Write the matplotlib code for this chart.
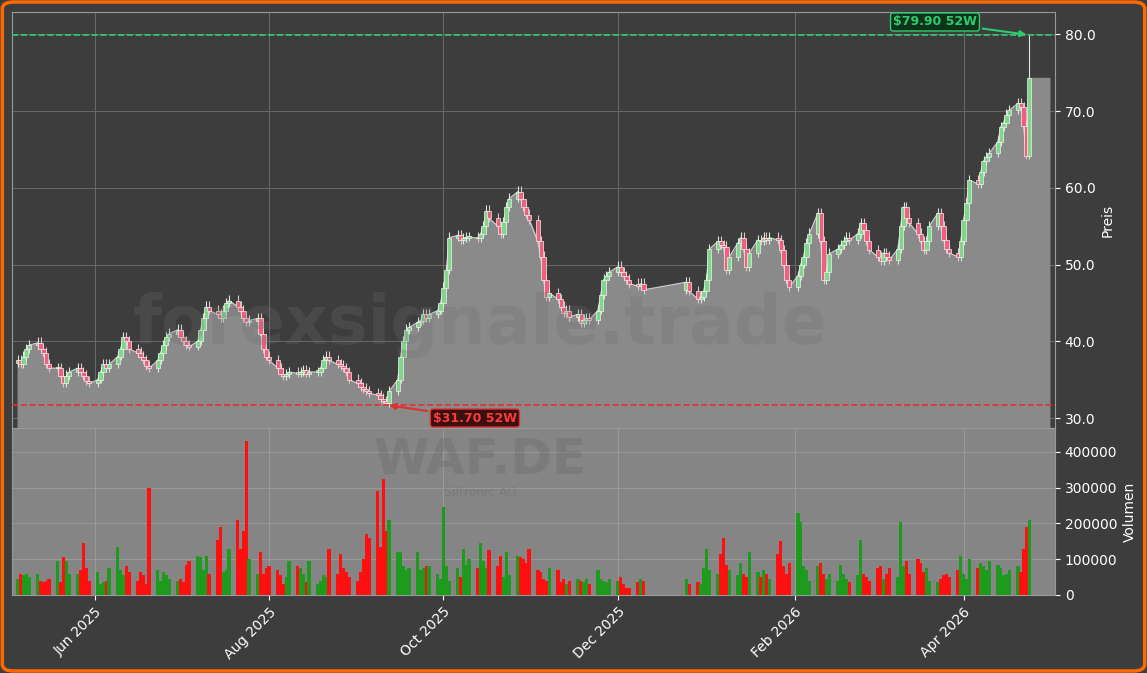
import numpy as np
import pandas as pd
import matplotlib
matplotlib.use("Agg")
import matplotlib.pyplot as plt
import matplotlib.dates as mdates
from matplotlib.patches import FancyBboxPatch

nan = np.nan
# weekly blocks of daily closes (business days from 2025-05-05)
closes_weeks = [
    [37.5,37,38,39,39.5],[39.8,39,38.5,37,36.5],[36.5,35.5,34.5,35.5,36],[36.5,36,35.5,34.8,34.5],
    [35,36,37,36.5,37],[38,39,40.5,40,39],[38.5,38,37.5,36.8,36.5],[37.5,38.5,39.5,40.5,41],
    [41.5,40.5,40,39.5,39.3],[40,41.5,43,44.5,44],[43.5,43,44,45,45.3],[44.5,44,43,42.5,42.7],
    [43,41,39,38,37.5],[36.5,35.8,35.5,35.7,36],[35.8,36,36.2,35.8,36],[36,36.5,37.5,38,37.5],
    [37,36.8,36.5,36,35],[34.5,34,33.8,33.5,33.2],[33,32.5,32.2,31.9,33.5],[35,38,40,41.5,41.8],
    [42.5,42.7,43.5,43,43.5],[44,45,47,49.3,53.5],[53.8,53.2,53.4,53.5,53.6],[53.4,54,55,57,56],
    [55,54,55.5,57.5,58.6],[59.5,58.5,57.5,56.5,55.8],[53,51,48,45.8,46.3],[45.5,44.5,43.7,44,43.2],
    [43.5,42.4,42.8,43,42.8],[44,46,48,48.5,49],[49.7,49,48.5,48,47.5],[47.2,47.5,46.7,nan,nan],
    [nan,nan,nan,nan,nan],[nan,nan,nan,47.7,46.5],[45.5,45.8,46.5,48,52],[53,52.5,52.3,49.3,51],
    [52.8,53.5,52,49.7,51.5],[53.2,53,53.5,53.2,53.5],[53.2,51.9,50,48,47.1],[48.5,50,51,52.8,54],
    [56.7,53,48,49,51.4],[52,52.5,53,53.5,53.2],[54,55.4,54.5,53,51.9],[51,50.5,51.5,51,50.6],
    [52,55,57.5,56,55.4],[54,53,51.9,53,55],[56.7,55,53.2,52,51.5],[51,53,55.8,58,61],
    [60.5,62,63.5,64,64.5],[66,67.9,68.5,69.5,70.1],[71,70.5,68,64.2,74.3],
]
volume_weeks = [
    [45,60,55,60,50],[60,40,35,40,45],[95,35,105,95,60],[60,70,145,75,40],
    [65,30,35,40,75],[135,70,55,80,65],[40,65,55,30,300],[70,40,65,55,45],
    [40,45,35,85,95],[110,105,70,110,60],[155,190,65,70,130],[210,130,180,430,100],
    [60,120,60,75,80],[70,55,30,50,95],[80,75,60,35,95],[30,40,55,50,130],
    [60,115,75,65,50],[40,65,100,170,160],[290,135,325,180,210],[120,120,80,70,75],
    [120,70,75,80,80],[60,45,245,80,40],[75,50,130,85,100],[75,145,95,75,125],
    [80,110,50,120,55],[110,105,100,90,130],[70,65,45,40,75],[70,35,45,30,40],
    [45,40,35,45,30],[70,45,40,35,45],[40,50,30,20,20],[35,45,40,nan,nan],
    [nan,nan,nan,nan,nan],[nan,nan,nan,45,30],[35,30,75,130,70],[60,115,160,85,70],
    [55,90,60,50,120],[65,50,70,60,45],[115,150,80,60,90],[230,205,80,70,40],
    [80,90,60,45,60],[40,85,60,45,35],[55,155,60,50,40],[75,80,45,60,75],
    [50,205,80,95,60],[100,90,65,75,40],[35,45,55,60,50],[70,110,60,45,100],
    [75,90,80,70,95],[85,75,55,60,70],[80,65,130,190,210],
]
high_52w = 79.90
low_52w = 31.70

closes = np.array([v for w in closes_weeks for v in w], dtype=float)
volumes = np.array([v for w in volume_weeks for v in w], dtype=float) * 1000
dates = pd.bdate_range("2025-05-05", periods=len(closes))
df = pd.DataFrame({"close": closes, "vol": volumes}, index=dates).dropna()
df["open"] = df["close"].shift(1).fillna(df["close"].iloc[0] - 0.3)
df["high"] = df[["open", "close"]].max(axis=1) + 0.7
df["low"] = df[["open", "close"]].min(axis=1) - 0.5
df.iloc[-1, df.columns.get_loc("high")] = high_52w
low_idx = df["low"].idxmin()
df.loc[low_idx, "low"] = low_52w

BG = "#3d3d3d"
fig = plt.figure(figsize=(11.47, 6.73), dpi=100, facecolor=BG)
L, R = 12/1147, 1055/1147
axp = fig.add_axes([L, 1-428/673, R-L, (428-12)/673])
axv = fig.add_axes([L, 1-595/673, R-L, (595-428)/673], sharex=axp)

border = FancyBboxPatch((0.002, 0.003), 0.996, 0.994, boxstyle="round,pad=0,rounding_size=0.01",
                        transform=fig.transFigure, fill=False, edgecolor="#ff6a00", linewidth=2.5)
fig.patches.append(border)

axp.set_facecolor(BG)
axv.set_facecolor("#858585")
x = mdates.date2num(df.index.to_pydatetime())
fill_x = np.append(x, x[-1] + 7)
fill_y = np.append(df["close"].values, df["close"].values[-1])
axp.fill_between(fill_x, 0, fill_y, color="#8a8a8a", alpha=1.0, zorder=1)
axp.plot(x, df["close"].values, color="#cfcfcf", lw=0.8, zorder=2)

w = 1.5
for xi, (o, h, l, c) in zip(x, df[["open", "high", "low", "close"]].values):
    up = c >= o
    col = "#7fd88a" if up else "#f0607e"
    axp.vlines(xi, l, h, color="#d8e8d8" if up else "#e8c0c8", lw=0.8, zorder=3)
    axp.bar(xi, max(abs(c-o), 0.2), bottom=min(o, c), width=w, color=col,
            edgecolor="#f0f0f0", linewidth=0.5, zorder=4)

axp.axhline(high_52w, color="#2ecc71", ls="--", lw=1.2, zorder=5)
axp.axhline(low_52w, color="#e03030", ls="--", lw=1.2, zorder=5)
axp.annotate(f"${high_52w:.2f} 52W", xy=(x[-1], high_52w), xytext=(mdates.date2num(pd.Timestamp("2026-03-22")), 81.6),
             color="#2ecc71", fontsize=9, fontweight="bold", ha="center", va="center",
             bbox=dict(boxstyle="round,pad=0.2", fc="#0e3318", ec="#2ecc71"),
             arrowprops=dict(arrowstyle="-|>", color="#2ecc71", lw=1.5), zorder=6)
axp.annotate(f"${low_52w:.2f} 52W", xy=(mdates.date2num(low_idx), low_52w), xytext=(mdates.date2num(pd.Timestamp("2025-10-12")), 30.0),
             color="#ff3b3b", fontsize=9, fontweight="bold", ha="center", va="center",
             bbox=dict(boxstyle="round,pad=0.2", fc="#3a1010", ec="#e03030"),
             arrowprops=dict(arrowstyle="-|>", color="#e03030", lw=1.5), zorder=6)

vcol = np.where(df["close"].values >= df["open"].values, "#1e9a1e", "#ff1010")
axv.bar(x, df["vol"].values, width=1.2, color=vcol, zorder=3)

xmin = mdates.date2num(pd.Timestamp("2025-05-03"))
xmax = mdates.date2num(pd.Timestamp("2026-05-03"))
axp.set_xlim(xmin, xmax)
axp.set_ylim(28.7, 82.9)
axv.set_ylim(0, 467000)

for ax in (axp, axv):
    ax.grid(True, color="#6a6a6a", lw=0.7, zorder=0)
    ax.set_axisbelow(True)
    ax.yaxis.tick_right()
    ax.yaxis.set_label_position("right")
    ax.tick_params(colors="white", labelsize=10)
    for s in ax.spines.values():
        s.set_color("#999999")
        s.set_linewidth(0.8)
axv.grid(True, color="#9a9a9a", lw=0.7, zorder=0)
axp.set_yticks([30, 40, 50, 60, 70, 80])
axp.yaxis.set_major_formatter(matplotlib.ticker.FormatStrFormatter("%.1f"))
axv.set_yticks([0, 100000, 200000, 300000, 400000])
axv.yaxis.set_major_formatter(matplotlib.ticker.FormatStrFormatter("%d"))
axp.set_ylabel("Preis", color="white", fontsize=10)
axv.set_ylabel("Volumen", color="white", fontsize=10)
plt.setp(axp.get_xticklabels(), visible=False)
axp.tick_params(axis="x", length=0)
axv.xaxis.set_major_locator(mdates.MonthLocator(bymonth=[2, 4, 6, 8, 10, 12]))
axv.xaxis.set_major_formatter(mdates.DateFormatter("%b %Y"))
plt.setp(axv.get_xticklabels(), rotation=45, ha="right", rotation_mode="anchor")

fig.text(480/1147, 1-325/673, "forexsignale.trade", fontsize=48, fontweight="bold",
         color="#6e6e6e", alpha=0.25, ha="center", va="center", zorder=10)
fig.text(480/1147, 1-460/673, "WAF.DE", fontsize=36, fontweight="bold",
         color="#6e6e6e", alpha=0.4, ha="center", va="center", zorder=10)
fig.text(480/1147, 1-493/673, "Siltronic AG", fontsize=9,
         color="#6e6e6e", alpha=0.5, ha="center", va="center", zorder=10)

fig.savefig("out.png", dpi=100, facecolor=BG)
